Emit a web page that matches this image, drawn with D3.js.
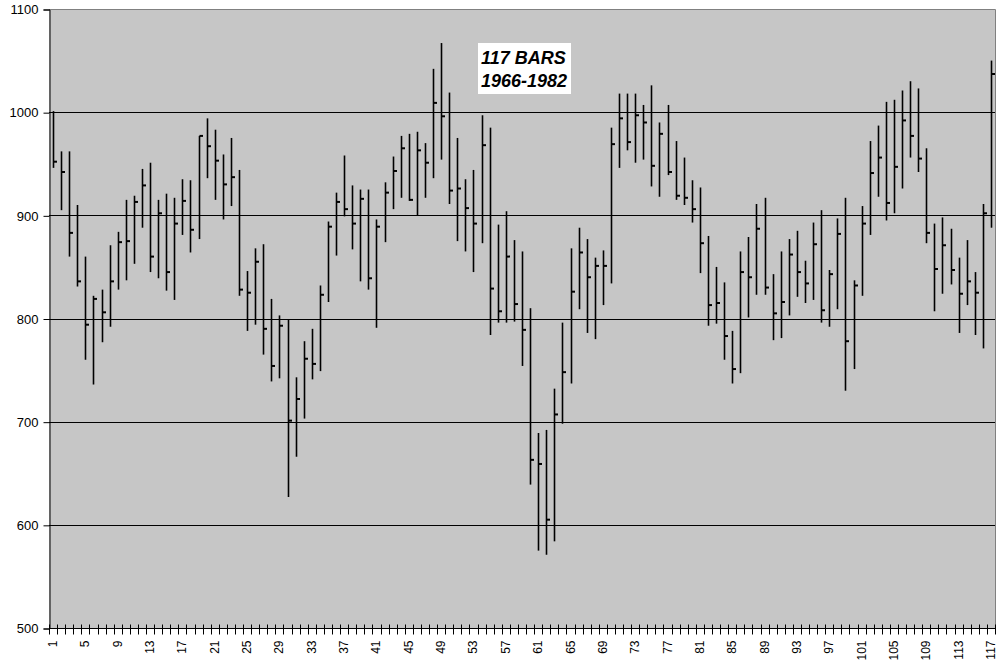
<!DOCTYPE html>
<html><head><meta charset="utf-8">
<script src="https://cdn.jsdelivr.net/npm/d3@7/dist/d3.min.js"></script>
<style>body{margin:0;background:#fff;}svg{display:block;font-family:Arial,"Liberation Sans",sans-serif;}</style>
</head><body>
<svg id="chart" width="1008" height="669"></svg>
<script>
const categories = d3.range(1, 118);
const highs = [1001,962,962,910,860,822,828,871,884,915,919,945,951,915,921,917,935,934,977,994,983,959,975,944,846,868,872,819,803,799,743,778,790,832,894,922,958,929,925,925,896,932,957,977,979,981,970,1042,1067,1019,975,935,944,997,985,891,904,876,865,810,689,692,732,796,868,888,877,859,866,985,1018,1018,1018,1007,1026,990,1007,972,956,934,927,880,850,835,788,865,879,911,917,843,865,877,885,856,893,905,847,897,917,837,909,972,987,1010,1012,1021,1030,1023,965,892,898,887,859,876,845,911,1050];
const lows = [946,905,860,831,760,736,777,792,828,837,853,888,845,839,827,818,881,864,877,936,915,896,909,822,788,794,765,739,742,627,666,703,741,749,816,861,899,867,836,828,791,874,906,917,914,900,917,936,954,911,875,865,845,873,784,796,796,797,754,639,575,571,584,698,737,809,786,780,813,834,946,963,951,954,928,918,939,915,910,893,844,793,795,760,737,747,801,823,823,779,781,803,821,815,818,796,792,809,730,751,822,881,918,895,902,926,956,942,873,807,824,833,786,813,784,771,888];
const closes = [952,942,883,836,794,819,806,836,874,875,913,929,860,902,845,892,914,886,977,967,953,930,937,828,825,855,790,754,793,701,722,761,756,823,889,913,906,892,916,839,889,922,943,965,915,963,951,1009,996,924,926,907,892,968,829,807,860,814,789,663,659,605,707,748,826,864,840,851,851,969,994,971,997,990,948,979,942,919,917,906,873,813,815,783,751,845,840,887,830,805,816,862,845,834,872,808,843,882,778,832,892,941,956,912,947,992,977,955,883,848,871,847,824,836,825,902,1037];
const yTicks = [500,600,700,800,900,1000,1100];
const xTickLabels = categories.filter(c => (c - 1) % 4 === 0);
const titleLines = ["117 BARS", "1966-1982"];

const svg = d3.select("#chart");
const L = 49, R = 995, T = 9, B = 628;
const x = d3.scaleBand().domain(categories).range([L, R]).paddingInner(0).paddingOuter(0);
const y = d3.scaleLinear().domain([500, 1100]).range([B, T]);

svg.append("rect").attr("x", L).attr("y", T).attr("width", R - L).attr("height", B - T).attr("fill", "#c6c6c6");

svg.append("g").selectAll("line").data(yTicks.filter(v => v > 500 && v < 1100)).join("line")
  .attr("x1", L).attr("x2", R).attr("y1", d => Math.round(y(d)) + 0.5).attr("y2", d => Math.round(y(d)) + 0.5)
  .attr("stroke", "#000").attr("stroke-width", 1);

svg.append("path").attr("d", `M${L},${T + 0.5}H${R + 0.5}V${B}`).attr("fill", "none").attr("stroke", "#808080");

const yAxis = d3.axisLeft(y).tickValues(yTicks).tickSize(6).tickPadding(5).tickFormat(d3.format("d"));
const gy = svg.append("g").attr("transform", `translate(${L + 0.5},0.5)`).call(yAxis);
gy.select(".domain").attr("stroke", "#000");
gy.selectAll(".tick line").attr("stroke", "#000");
gy.selectAll("text").attr("font-size", 13).attr("fill", "#000").attr("font-family", "Arial, 'Liberation Sans', sans-serif");

const gx = svg.append("g").attr("transform", `translate(0,${B + 0.5})`);
gx.append("line").attr("x1", L).attr("x2", R + 1).attr("stroke", "#000");
const bounds = categories.map(c => x(c)).concat([R]);
gx.selectAll("line.tk").data(bounds).join("line").attr("class", "tk")
  .attr("x1", d => Math.round(d) + 0.5).attr("x2", d => Math.round(d) + 0.5)
  .attr("y1", -4).attr("y2", 6).attr("stroke", "#000");
gx.selectAll("text").data(xTickLabels).join("text")
  .attr("transform", d => `translate(${x(d) + x.bandwidth() / 2 + 4},12) rotate(-90)`)
  .attr("text-anchor", "end").attr("font-size", 12).attr("fill", "#000")
  .text(d => d);

const bars = svg.append("g");
categories.forEach((c, i) => {
  const cx = Math.round(x(c) + x.bandwidth() / 2) + 0.5;
  bars.append("line").attr("x1", cx).attr("x2", cx)
    .attr("y1", y(highs[i])).attr("y2", y(lows[i]))
    .attr("stroke", "#000").attr("stroke-width", 1.6);
  bars.append("line").attr("x1", cx).attr("x2", cx + 3.5)
    .attr("y1", y(closes[i])).attr("y2", y(closes[i]))
    .attr("stroke", "#000").attr("stroke-width", 2);
});

const tb = svg.append("g");
tb.append("rect").attr("x", 478).attr("y", 43).attr("width", 93).attr("height", 51).attr("fill", "#fff");
tb.selectAll("text").data(titleLines).join("text")
  .attr("x", 481).attr("y", (d, i) => 64 + i * 23)
  .attr("font-size", 18).attr("font-weight", "bold").attr("font-style", "italic").attr("fill", "#000")
  .text(d => d);
</script>
</body></html>
